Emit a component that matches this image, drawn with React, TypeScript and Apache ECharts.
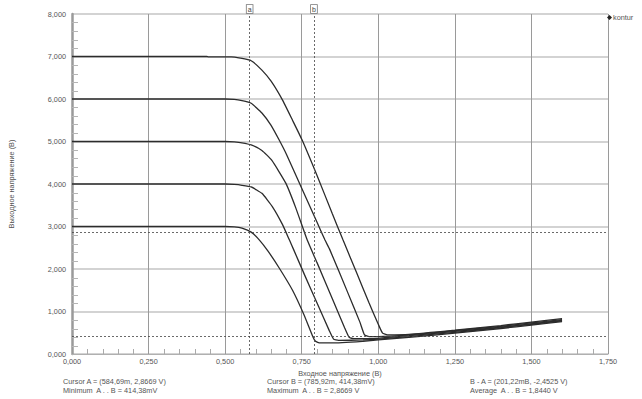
import React, { useEffect, useRef } from "react";
import * as echarts from "echarts";

// Input voltage (x) / output voltage (y) for each supply level
const curve3: [number, number][] = [
  [0, 3.0], [0.5, 3.0], [0.53, 2.99], [0.555, 2.96], [0.585, 2.867], [0.612, 2.68], [0.64, 2.42],
  [0.676, 2.03], [0.72, 1.5], [0.757, 0.93], [0.786, 0.414], [0.795, 0.3], [0.81, 0.26], [0.85, 0.26],
  [0.95, 0.3], [1.0, 0.33], [1.1, 0.39], [1.25, 0.49], [1.4, 0.6], [1.5, 0.68], [1.6, 0.76],
];
const curve4: [number, number][] = [
  [0, 4.0], [0.5, 4.0], [0.53, 3.99], [0.555, 3.97], [0.585, 3.93], [0.62, 3.78], [0.654, 3.47], [0.687, 3.05],
  [0.71, 2.68], [0.724, 2.45], [0.76, 1.85], [0.8, 1.2], [0.84, 0.55], [0.854, 0.35], [0.87, 0.32],
  [0.95, 0.33], [1.0, 0.35], [1.1, 0.41], [1.25, 0.51], [1.4, 0.62], [1.5, 0.7], [1.6, 0.78],
];
const curve5: [number, number][] = [
  [0, 5.0], [0.5, 5.0], [0.53, 4.99], [0.555, 4.97], [0.585, 4.92], [0.62, 4.79], [0.652, 4.56], [0.698, 4.02],
  [0.73, 3.45], [0.768, 2.68], [0.8, 2.15], [0.85, 1.3], [0.89, 0.62], [0.905, 0.39], [0.92, 0.36],
  [1.0, 0.37], [1.1, 0.43], [1.25, 0.53], [1.4, 0.63], [1.5, 0.71], [1.6, 0.79],
];
const curve6: [number, number][] = [
  [0, 6.0], [0.5, 6.0], [0.53, 5.99], [0.555, 5.96], [0.585, 5.9], [0.62, 5.67], [0.65, 5.38], [0.676, 5.04],
  [0.7, 4.7], [0.75, 3.9], [0.8, 3.1], [0.826, 2.68], [0.842, 2.45], [0.9, 1.45], [0.94, 0.75],
  [0.955, 0.45], [0.97, 0.41], [1.0, 0.41], [1.1, 0.45], [1.25, 0.55], [1.4, 0.65], [1.5, 0.73], [1.6, 0.81],
];
const curve7: [number, number][] = [
  [0, 7.0], [0.44, 7.0], [0.445, 6.99], [0.52, 6.99], [0.55, 6.96], [0.585, 6.9], [0.62, 6.68],
  [0.65, 6.42], [0.687, 5.98], [0.72, 5.5], [0.751, 5.04], [0.8, 4.2], [0.85, 3.3], [0.885, 2.68],
  [0.93, 1.9], [0.97, 1.2], [1.0, 0.7], [1.014, 0.49], [1.03, 0.45], [1.1, 0.46], [1.25, 0.56],
  [1.4, 0.67], [1.5, 0.75], [1.6, 0.83],
];
const curves = [curve3, curve4, curve5, curve6, curve7];

const cursorAX = 0.58469;
const cursorAY = 2.8669;
const cursorBX = 0.78592;
const cursorBY = 0.41438;

// minor tick steps of the axes
const xMinorStep = 0.05;
const yMinorStep = 0.2;

const footerTexts = [
  "Cursor A = (584,69m, 2,8669 V)",
  "Minimum  A . . B = 414,38mV",
  "Cursor B = (785,92m, 414,38mV)",
  "Maximum  A . . B = 2,8669 V",
  "B - A = (201,22mB, -2,4525 V)",
  "Average  A . . B = 1,8440 V",
];

const fmt = (v: number) => v.toFixed(3).replace(".", ",");

export default function App() {
  const ref = useRef<HTMLDivElement>(null);
  useEffect(() => {
    if (!ref.current) return;
    const chart = echarts.init(ref.current, undefined, { renderer: "svg" });
    const font = "Liberation Sans, Arial, sans-serif";
    const textColor = "#555";
    const lineColor = "#2c2c2c";
    const fs = 7.3;
    const cursorLabel = (t: string) => ({
      show: true, position: "end", formatter: t, fontSize: 7, color: "#444",
      fontFamily: font, backgroundColor: "#fff", borderColor: "#777", borderWidth: 0.8,
      padding: [1, 1, 0, 1], distance: 1,
    });
    const series: any[] = curves.map((c, i) => ({
      type: "line",
      name: "kontur",
      data: c,
      showSymbol: false,
      symbol: "none",
      smooth: 0.15,
      z: 3,
      lineStyle: { color: lineColor, width: 1.3 },
      itemStyle: { color: "#222" },
      markLine:
        i === 0
          ? {
              silent: true,
              symbol: ["none", "none"],
              lineStyle: { type: [2, 2], color: "#444", width: 0.8 },
              label: { show: false },
              data: [
                { xAxis: cursorAX, label: cursorLabel("a") },
                { xAxis: cursorBX, label: cursorLabel("b") },
                { yAxis: cursorAY },
                { yAxis: cursorBY },
              ],
            }
          : undefined,
    }));

    const xTicks: number[][] = [];
    for (let i = 1; i * xMinorStep < 1.75 - 1e-9; i++) if (i % 5 !== 0) xTicks.push([i * xMinorStep]);
    const yTicks: number[][] = [];
    for (let i = 1; i * yMinorStep < 8 - 1e-9; i++) if (i % 5 !== 0) yTicks.push([i * yMinorStep]);

    series.push({
      type: "custom",
      name: "xticks",
      silent: true,
      z: 1,
      data: xTicks,
      renderItem: (_p: any, api: any) => {
        const pt = api.coord([api.value(0), 0]);
        const x = Math.round(pt[0]) + 0.5;
        return {
          type: "line",
          shape: { x1: x, y1: pt[1], x2: x, y2: pt[1] - 5 },
          style: { stroke: "#aaa", lineWidth: 1 },
        };
      },
    });
    series.push({
      type: "custom",
      name: "yticks",
      silent: true,
      z: 1,
      data: yTicks,
      renderItem: (_p: any, api: any) => {
        const pt = api.coord([0, api.value(0)]);
        const y = Math.round(pt[1]) + 0.5;
        return {
          type: "line",
          shape: { x1: pt[0], y1: y, x2: pt[0] + 6, y2: y },
          style: { stroke: "#b4b4b4", lineWidth: 1 },
        };
      },
      encode: { y: 0 },
    });
    series[series.length - 2].encode = { x: 0 };

    const gfx: any[] = [];
    const colsX = [63, 267, 470];
    footerTexts.forEach((t, i) => {
      gfx.push({
        type: "text",
        left: colsX[Math.floor(i / 2)],
        top: i % 2 === 0 ? 378 : 387,
        style: { text: t, fontSize: fs, fill: textColor, fontFamily: font },
      });
    });

    chart.setOption({
      animation: false,
      backgroundColor: "#fff",
      grid: { left: 63, right: 34, top: 14, bottom: 45 },
      legend: {
        data: ["kontur"],
        left: 607,
        top: 14,
        icon: "diamond",
        itemWidth: 5,
        itemHeight: 5,
        itemGap: 2,
        padding: 0,
        textStyle: { fontSize: fs, color: textColor, fontFamily: font, padding: [0, 0, 0, -4] },
      },
      xAxis: {
        type: "value",
        min: 0,
        max: 1.75,
        interval: 0.25,
        name: "Входное напряжение (В)",
        nameLocation: "middle",
        nameGap: 11,
        nameTextStyle: { fontSize: fs, color: textColor, fontFamily: font, verticalAlign: "top" },
        axisLine: { show: true, lineStyle: { color: "#b0b0b0", width: 1 } },
        axisTick: { show: false },
        axisLabel: { formatter: fmt, fontSize: fs, color: textColor, fontFamily: font, margin: 4 },
        splitLine: { show: true, lineStyle: { color: "#9a9a9a", width: 1 } },
      },
      yAxis: {
        type: "value",
        min: 0,
        max: 8,
        interval: 1,
        name: "Выходное напряжение (В)",
        nameLocation: "middle",
        nameGap: 57,
        nameTextStyle: { fontSize: fs, color: textColor, fontFamily: font },
        axisLine: { show: true, lineStyle: { color: "#9a9a9a", width: 2.5 } },
        axisTick: { show: false },
        axisLabel: { formatter: fmt, fontSize: fs, color: textColor, fontFamily: font, margin: 6 },
        splitLine: { show: true, lineStyle: { color: "#c4c4c4", width: 1.5 } },
      },
      series,
      graphic: gfx,
    });
    return () => chart.dispose();
  }, []);
  return (
    <div
      ref={ref}
      style={{ position: "fixed", left: 0, top: 0, width: 642, height: 399, background: "#fff" }}
    />
  );
}
